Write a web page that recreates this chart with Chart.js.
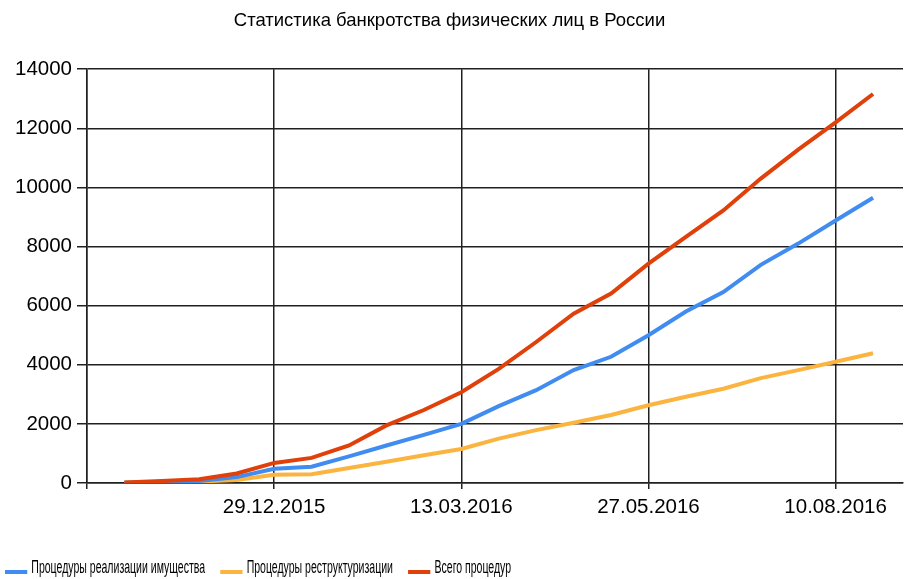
<!DOCTYPE html>
<html lang="ru">
<head>
<meta charset="utf-8">
<title>Статистика банкротства физических лиц в России</title>
<script src="https://cdn.jsdelivr.net/npm/chart.js@4.4.1/dist/chart.umd.min.js"></script>
<style>
  html, body { margin: 0; padding: 0; background: #fff; overflow: hidden; }
  #wrap { position: relative; width: 909px; height: 579px; }
  #chart { display: block; }
  /* legend text in the reference is horizontally condensed */
  #legend {
    position: absolute; left: 5px; top: 556px; height: 22px;
    display: flex; align-items: center;
    font: 18px 'Liberation Sans', Arial, sans-serif; line-height: 22px; color: #000;
    white-space: nowrap; transform: scaleX(0.585); transform-origin: 0 0;
  }
  #legend .item { display: flex; align-items: center; margin-right: 26px; }
  #legend .item i { display: block; position: relative; top: 5px; width: 38px; height: 4px; margin-right: 7px; }
</style>
</head>
<body>
<div id="wrap">
  <canvas id="chart" width="909" height="579"></canvas>
  <div id="legend"></div>
</div>
<script>
/* ---- data ---- */
const axisStart = "15.10.2015";   // left edge of the x axis
const axisEndDays = 327;          // right edge, days after axisStart
const tickStepDays = 75;

const dates = [
  "30.10.2015", "14.11.2015", "29.11.2015", "14.12.2015", "29.12.2015",
  "13.01.2016", "28.01.2016", "12.02.2016", "27.02.2016", "13.03.2016",
  "28.03.2016", "12.04.2016", "27.04.2016", "12.05.2016", "27.05.2016",
  "11.06.2016", "26.06.2016", "11.07.2016", "26.07.2016", "10.08.2016",
  "25.08.2016",
];
const realization = [10, 30, 70, 200, 480, 550, 900, 1270, 1630, 2000, 2600, 3140, 3820, 4270, 5000, 5800, 6460, 7380, 8100, 8880, 9650];
const restructuring = [5, 20, 50, 100, 280, 300, 510, 720, 940, 1150, 1500, 1790, 2040, 2300, 2630, 2920, 3190, 3550, 3820, 4100, 4390];
const total = [20, 65, 130, 320, 680, 850, 1270, 1950, 2470, 3070, 3860, 4770, 5730, 6410, 7420, 8330, 9220, 10300, 11280, 12200, 13160];

const seriesNames = ["Процедуры реализации имущества", "Процедуры реструктуризации", "Всего процедур"];
const seriesColors = ["#418CF0", "#FCB441", "#E0400A"];
const chartTitle = "Статистика банкротства физических лиц в России";

/* ---- date helpers ---- */
const DAY = 86400000;
function parseDate(s) {
  const [d, m, y] = s.split(".").map(Number);
  return Date.UTC(y, m - 1, d);
}
function dayOffset(s) {
  return Math.round((parseDate(s) - parseDate(axisStart)) / DAY);
}
function formatDate(days) {
  const dt = new Date(parseDate(axisStart) + days * DAY);
  const pad = n => String(n).padStart(2, "0");
  return `${pad(dt.getUTCDate())}.${pad(dt.getUTCMonth() + 1)}.${dt.getUTCFullYear()}`;
}
function points(values) {
  return values.map((v, i) => ({ x: dayOffset(dates[i]), y: v }));
}

// html legend, built from the chart's own datasets
function buildLegend(chart) {
  const box = document.getElementById("legend");
  box.innerHTML = "";
  chart.data.datasets.forEach(ds => {
    const item = document.createElement("span");
    item.className = "item";
    const swatch = document.createElement("i");
    swatch.style.background = ds.borderColor;
    item.appendChild(swatch);
    item.appendChild(document.createTextNode(ds.label));
    box.appendChild(item);
  });
}

/* ---- chart ---- */
Chart.defaults.font.family = "'Liberation Sans', Arial, sans-serif";
Chart.defaults.color = "#000";

const gridColor = "#202020";

const chart = new Chart(document.getElementById("chart").getContext("2d"), {
  type: "line",
  data: {
    datasets: [realization, restructuring, total].map((vals, i) => ({
      label: seriesNames[i],
      data: points(vals),
      borderColor: seriesColors[i],
      backgroundColor: seriesColors[i],
      borderWidth: 4,
      pointRadius: 0,
      tension: 0,
      order: [1, 2, 0][i],   // total drawn on top
    })),
  },
  options: {
    responsive: false,
    animation: false,
    layout: { padding: { left: -10, right: 0, top: 0, bottom: 0 } },
    scales: {
      x: {
        type: "linear",
        min: 0,
        max: axisEndDays,
        afterFit: s => { s.height = 96; },
        grid: {
          color: c => (c.tick && c.tick.value % tickStepDays === 0 ? gridColor : "rgba(0,0,0,0)"),
          lineWidth: 1.5,
          tickLength: 6,
        },
        border: { color: gridColor, width: 1.5 },
        ticks: {
          stepSize: tickStepDays,
          autoSkip: false,
          maxRotation: 0,
          padding: 6,
          font: { size: 20.5 },
          callback: v => (v > 0 && v % tickStepDays === 0 ? formatDate(v) : ""),
        },
      },
      y: {
        min: 0,
        max: 14000,
        afterFit: s => { s.width = 97; },
        grid: { color: gridColor, lineWidth: 1.5, tickLength: 10 },
        border: { color: gridColor, width: 1.5 },
        ticks: { stepSize: 2000, padding: 5, font: { size: 20.5 }, callback: v => String(v) },
      },
    },
    plugins: {
      title: {
        display: true,
        text: chartTitle,
        color: "#000",
        font: { size: 18.5, weight: "normal" },
        padding: { top: 10, bottom: 37 },
      },
      legend: { display: false },
      tooltip: { enabled: false },
    },
  },
});
buildLegend(chart);
</script>
</body>
</html>
